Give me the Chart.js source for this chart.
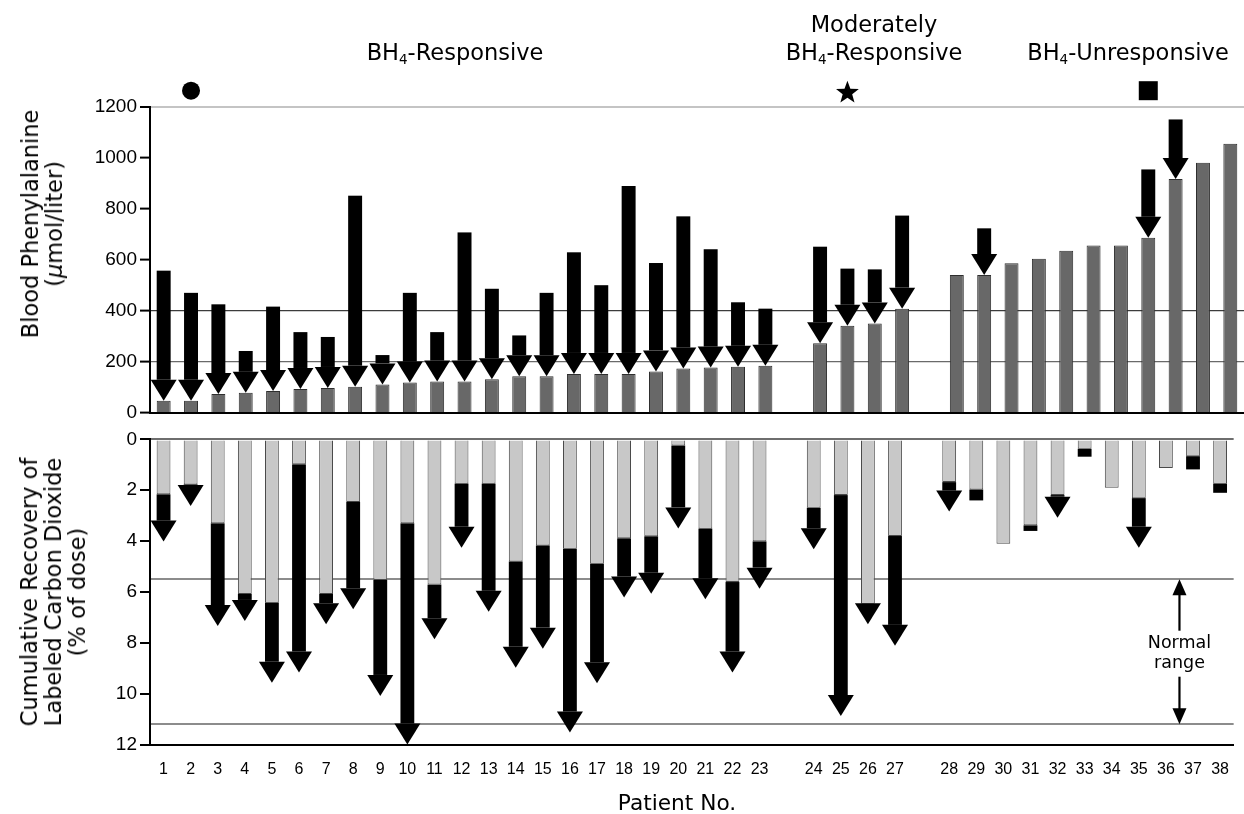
<!DOCTYPE html>
<html>
<head>
<meta charset="utf-8">
<script src="https://cdn.jsdelivr.net/npm/chart.js@4.4.0/dist/chart.umd.min.js"></script>
<style>
html,body{margin:0;padding:0;background:#fff;}
#wrap{position:relative;width:1244px;height:814px;overflow:hidden;background:#fff;}
canvas{position:absolute;left:0;}
#topChart{top:0;}
#botChart{top:425px;}
.t{position:absolute;white-space:nowrap;color:#000;font-family:"DejaVu Sans",sans-serif;font-size:22.5px;line-height:26px;transform:translateX(-50%);}
.t sub{font-size:0.6em;vertical-align:-4px;line-height:0;}
.yt{position:absolute;white-space:nowrap;text-align:center;color:#000;font-family:"DejaVu Sans",sans-serif;font-size:22.5px;line-height:24px;transform:translate(-50%,-50%) rotate(-90deg);}
.xt{position:absolute;white-space:nowrap;color:#000;font-family:"DejaVu Sans",sans-serif;font-size:21.7px;line-height:24px;transform:translateX(-50%);}
</style>
</head>
<body>
<div id="wrap">
  <canvas id="topChart" width="1244" height="430"></canvas>
  <canvas id="botChart" width="1244" height="389"></canvas>
  <div class="t" style="left:455px;top:38.5px;">BH<sub>4</sub>-Responsive</div>
  <div class="t" style="left:874px;top:11px;">Moderately</div>
  <div class="t" style="left:874px;top:38.5px;">BH<sub>4</sub>-Responsive</div>
  <div class="t" style="left:1128px;top:38.5px;">BH<sub>4</sub>-Unresponsive</div>
  <div class="yt" style="left:42px;top:224px;">Blood Phenylalanine<br>(<i>μ</i>mol/liter)</div>
  <div class="yt" style="left:53px;top:592px;">Cumulative Recovery of<br>Labeled Carbon Dioxide<br>(% of dose)</div>
  <div class="xt" style="left:677px;top:790.5px;">Patient No.</div>
</div>
<script>
// ---------- DATA ----------
// Patient categories ('' = spacer between groups)
const patientLabels = ['1','2','3','4','5','6','7','8','9','10','11','12','13','14','15','16','17','18','19','20','21','22','23','',
  '24','25','26','27','',
  '28','29','30','31','32','33','34','35','36','37','38'];

// Blood phenylalanine (µmol/liter): before BH4 (arrow start) and after BH4 (gray bar / arrow tip)
const pheBefore = [557,470,425,242,416,316,297,851,226,470,316,707,486,303,470,629,500,889,587,770,641,433,408,null,
  651,565,562,773,null,
  null,723,null,null,null,null,null,954,1150,null,null];
const pheAfter = [47,47,73,78,85,93,97,102,111,118,122,122,131,143,143,152,152,152,162,173,177,180,184,null,
  272,341,350,408,null,
  540,540,586,604,635,656,656,686,916,980,1055];

// Cumulative recovery of labeled CO2 (% of dose): baseline (light bar) and after BH4 (black part end)
const co2Base = [2.16,1.77,3.30,6.08,6.42,0.98,6.08,2.46,5.53,3.30,5.71,1.74,1.74,4.80,4.17,4.30,4.89,3.89,3.81,0.24,3.51,5.61,4.01,null,
  2.69,2.19,6.46,3.80,null,
  1.68,1.97,4.10,3.38,2.19,0.37,1.90,2.31,1.12,0.66,1.74];
const co2After = [4.02,2.62,7.34,7.14,9.57,9.17,7.27,6.68,10.09,12.0,7.86,4.26,6.78,8.98,8.23,11.53,9.59,6.22,6.07,3.50,6.29,9.17,5.87,null,
  4.32,10.88,7.27,8.12,null,
  2.84,2.40,null,3.60,3.08,0.68,null,4.26,null,1.18,2.10];
// 1 = change drawn with an arrow head, 0 = plain black segment
const co2Head = [1,1,1,1,1,1,1,1,1,1,1,1,1,1,1,1,1,1,1,1,1,1,1,null,
  1,1,1,1,null,
  1,0,0,0,1,0,0,1,0,0,0];

// Tick values
const pheTicks = [0,200,400,600,800,1000,1200];
const co2Ticks = [0,2,4,6,8,10,12];
const co2NormalRange = [5.5, 11.2];

// Group markers above the top panel
const groupMarkers = [{patient:'2', shape:'circle'}, {patient:'25', shape:'star'}, {patient:'35', shape:'square'}];

// ---------- PLUGINS ----------
const arrowPlugin = {
  id: 'arrows',
  afterDatasetsDraw(chart) {
    const ctx = chart.ctx;
    chart.data.datasets.forEach((d, di) => {
      if (!d.arrow) return;
      const meta = chart.getDatasetMeta(di);
      const ys = chart.scales[meta.yAxisID];
      ctx.save();
      ctx.fillStyle = '#000';
      meta.data.forEach((el, i) => {
        const v = d.data[i];
        if (!v) return;
        const y0 = ys.getPixelForValue(v[0]);
        const y1 = ys.getPixelForValue(v[1]);
        const dir = Math.sign(y1 - y0) || 1;
        const headed = d.heads ? d.heads[i] : 1;
        const hw = el.width / 2;
        const H = 21, W = 13;
        if (headed) {
          const base = y1 - dir * H;
          if ((base - y0) * dir > 0) ctx.fillRect(el.x - hw, Math.min(y0, base), 2 * hw, Math.abs(base - y0));
          ctx.beginPath();
          ctx.moveTo(el.x - W, base);
          ctx.lineTo(el.x + W, base);
          ctx.lineTo(el.x, y1);
          ctx.closePath();
          ctx.fill();
        } else {
          ctx.fillRect(el.x - hw, Math.min(y0, y1), 2 * hw, Math.abs(y1 - y0));
        }
      });
      ctx.restore();
    });
  }
};

const markerPlugin = {
  id: 'markers',
  afterDraw(chart) {
    const ctx = chart.ctx;
    const xs = chart.scales.x;
    const yc = chart.chartArea.top - 16;
    ctx.save();
    ctx.fillStyle = '#000';
    groupMarkers.forEach(m => {
      const x = xs.getPixelForValue(chart.data.labels.indexOf(m.patient));
      ctx.beginPath();
      if (m.shape === 'circle') {
        ctx.arc(x, yc, 9, 0, Math.PI * 2);
      } else if (m.shape === 'square') {
        ctx.rect(x - 9.5, yc - 9.5, 19, 19);
      } else {
        const R = 12, r = 5;
        for (let k = 0; k < 10; k++) {
          const rad = k % 2 ? r : R;
          const a = -Math.PI / 2 + k * Math.PI / 5;
          const px = x + rad * Math.cos(a), py = yc + 2 + rad * Math.sin(a);
          k ? ctx.lineTo(px, py) : ctx.moveTo(px, py);
        }
        ctx.closePath();
      }
      ctx.fill();
    });
    ctx.restore();
  }
};

const normalRangePlugin = {
  id: 'normalRange',
  afterDraw(chart) {
    const ctx = chart.ctx;
    const xs = chart.scales.x, ys = chart.scales.y;
    const x = (xs.getPixelForValue(patientLabels.indexOf('36')) + xs.getPixelForValue(patientLabels.indexOf('37'))) / 2;
    const yTop = ys.getPixelForValue(co2NormalRange[0]);
    const yBot = ys.getPixelForValue(co2NormalRange[1]);
    const mid = (yTop + yBot) / 2;
    ctx.save();
    ctx.fillStyle = '#000';
    ctx.strokeStyle = '#000';
    ctx.lineWidth = 2.2;
    // up arrow
    ctx.beginPath(); ctx.moveTo(x, mid - 21); ctx.lineTo(x, yTop + 12); ctx.stroke();
    ctx.beginPath(); ctx.moveTo(x, yTop); ctx.lineTo(x - 7, yTop + 16); ctx.lineTo(x + 7, yTop + 16); ctx.closePath(); ctx.fill();
    // down arrow
    ctx.beginPath(); ctx.moveTo(x, mid + 25); ctx.lineTo(x, yBot - 12); ctx.stroke();
    ctx.beginPath(); ctx.moveTo(x, yBot); ctx.lineTo(x - 7, yBot - 16); ctx.lineTo(x + 7, yBot - 16); ctx.closePath(); ctx.fill();
    ctx.font = '17.5px "DejaVu Sans"';
    ctx.textAlign = 'center';
    ctx.textBaseline = 'alphabetic';
    ctx.fillText('Normal', x, mid - 3.5);
    ctx.fillText('range', x, mid + 16.5);
    ctx.restore();
  }
};

// ---------- CHARTS ----------
const tickFont = {family: '"Liberation Sans", Arial, sans-serif', size: 19};

new Chart(document.getElementById('topChart'), {
  type: 'bar',
  data: {
    labels: patientLabels,
    datasets: [
      {label: 'After BH4', data: pheAfter, backgroundColor: '#686868', borderColor: '#2e2e2e', borderWidth: 1,
       grouped: false, barPercentage: 0.51, categoryPercentage: 1},
      {label: 'Change', data: pheBefore.map((b, i) => b == null ? null : [b, pheAfter[i]]), arrow: true,
       backgroundColor: 'rgba(0,0,0,0)', borderWidth: 0, grouped: false, barPercentage: 0.51, categoryPercentage: 1}
    ]
  },
  options: {
    responsive: false, animation: false, events: [],
    layout: {padding: {left: 0, right: 0, top: 106.7, bottom: 17.3}},
    plugins: {legend: {display: false}, tooltip: {enabled: false}},
    scales: {
      x: {offset: true, ticks: {display: false}, grid: {display: false, drawTicks: false},
          border: {display: true, color: '#000', width: 2}},
      y: {min: 0, max: 1200,
          afterFit(s) { s.width = 150; },
          afterBuildTicks(s) { s.ticks = pheTicks.map(v => ({value: v})); },
          ticks: {font: tickFont, color: '#000', padding: 3, callback: v => String(v)},
          grid: {
            color: c => c.tick.value === 400 ? '#3c3c3c' : c.tick.value === 200 ? '#6a6a6a' : c.tick.value === 1200 ? '#c4c4c4' : 'rgba(0,0,0,0)',
            lineWidth: c => c.tick.value === 1200 ? 2 : 1.2,
            tickColor: '#000', tickLength: 10, tickWidth: 2
          },
          border: {display: true, color: '#000', width: 2}}
    }
  },
  plugins: [arrowPlugin, markerPlugin]
});

new Chart(document.getElementById('botChart'), {
  type: 'bar',
  data: {
    labels: patientLabels,
    datasets: [
      {label: 'Baseline', data: co2Base, backgroundColor: '#c8c8c8', borderColor: '#4a4a4a', borderWidth: 1,
       grouped: false, barPercentage: 0.51, categoryPercentage: 1},
      {label: 'Change', data: co2Base.map((b, i) => (b == null || co2After[i] == null) ? null : [b, co2After[i]]),
       heads: co2Head, arrow: true,
       backgroundColor: 'rgba(0,0,0,0)', borderWidth: 0, grouped: false, barPercentage: 0.51, categoryPercentage: 1}
    ]
  },
  options: {
    responsive: false, animation: false, events: [],
    layout: {padding: {left: 0, right: 0, top: 13.3, bottom: 20.3}},
    plugins: {legend: {display: false}, tooltip: {enabled: false}},
    scales: {
      x: {offset: true,
          ticks: {font: {family: '"Liberation Sans", Arial, sans-serif', size: 16}, color: '#000', padding: 15, autoSkip: false, maxRotation: 0, minRotation: 0},
          grid: {display: false, drawTicks: false},
          border: {display: true, color: '#000', width: 2}},
      y: {min: 0, max: 12, reverse: true,
          afterFit(s) { s.width = 150; },
          afterBuildTicks(s) { s.ticks = co2Ticks.concat(co2NormalRange).sort((a, b) => a - b).map(v => ({value: v})); },
          ticks: {font: tickFont, color: '#000', padding: 3,
                  callback: v => co2Ticks.includes(v) ? String(v) : ''},
          grid: {
            color: c => co2NormalRange.includes(c.tick.value) ? '#8c8c8c' : c.tick.value === 0 ? '#6e6e6e' : 'rgba(0,0,0,0)',
            lineWidth: 2,
            tickColor: c => co2NormalRange.includes(c.tick.value) ? 'rgba(0,0,0,0)' : '#000',
            tickLength: 10, tickWidth: 2
          },
          border: {display: true, color: '#000', width: 2}}
    }
  },
  plugins: [arrowPlugin, normalRangePlugin]
});
</script>
</body>
</html>
